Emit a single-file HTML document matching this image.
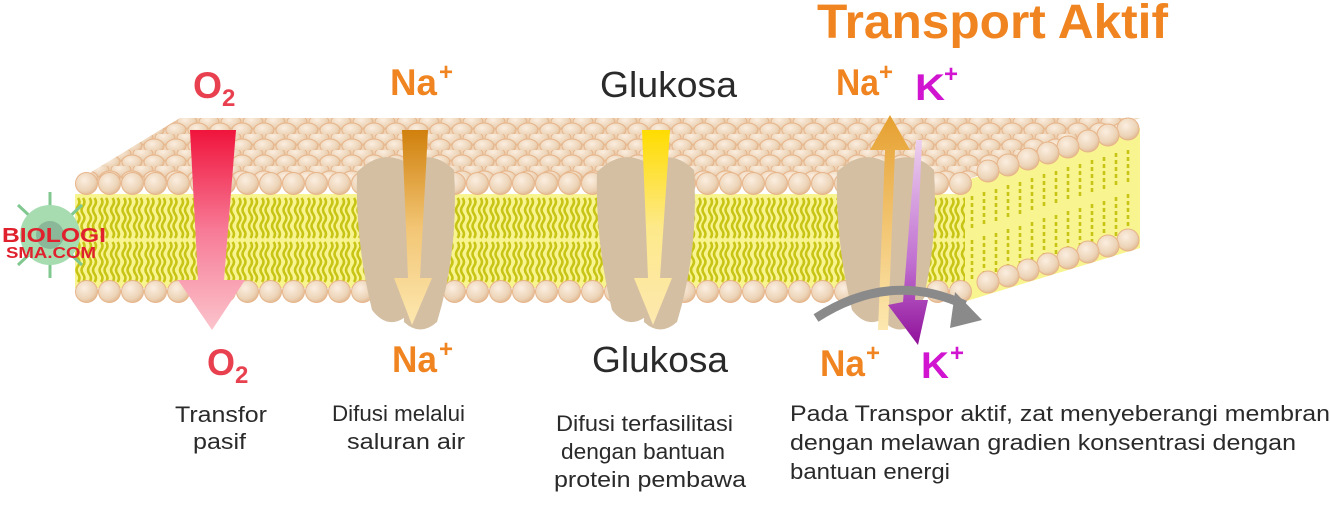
<!DOCTYPE html>
<html><head><meta charset="utf-8"><style>html,body{margin:0;padding:0;background:#fff}svg{display:block}</style></head>
<body>
<svg width="1330" height="518" viewBox="0 0 1330 518" xmlns="http://www.w3.org/2000/svg" font-family="Liberation Sans, Arial, sans-serif">
<defs>
  <radialGradient id="ball" cx="0.4" cy="0.35" r="0.7">
    <stop offset="0" stop-color="#fbeee0"/><stop offset="0.7" stop-color="#ecd3b6"/><stop offset="1" stop-color="#e0b58c"/>
  </radialGradient>
  <pattern id="heads" x="75" y="172" width="23" height="108" patternUnits="userSpaceOnUse">
    <circle cx="11.5" cy="11.5" r="11" fill="url(#ball)" stroke="#e7b489" stroke-width="1"/>
  </pattern>
  <pattern id="topballs" x="0" y="118" width="22" height="16" patternUnits="userSpaceOnUse">
    <ellipse cx="11" cy="4" rx="10" ry="7" fill="url(#ball)" stroke="#e7b489" stroke-width="1"/>
    <ellipse cx="0" cy="12" rx="10" ry="7" fill="url(#ball)" stroke="#e7b489" stroke-width="1"/>
    <ellipse cx="22" cy="12" rx="10" ry="7" fill="url(#ball)" stroke="#e7b489" stroke-width="1"/>
  </pattern>
  <pattern id="tails" x="75" y="196" width="11.5" height="44" patternUnits="userSpaceOnUse">
    <path d="M3 2 q3 4 0 8 q-3 4 0 8 q3 4 0 8 q-3 4 0 8 q3 4 0 8 M8 2 q3 4 0 8 q-3 4 0 8 q3 4 0 8 q-3 4 0 8 q3 4 0 8" fill="none" stroke="#c8c415" stroke-width="2.6"/>
  </pattern>
  <linearGradient id="gO2" x1="0" y1="0" x2="0" y2="1"><stop offset="0" stop-color="#f0143c"/><stop offset="0.5" stop-color="#f77a96"/><stop offset="1" stop-color="#fbc4cc"/></linearGradient>
  <linearGradient id="gNa" x1="0" y1="0" x2="0" y2="1"><stop offset="0" stop-color="#d0800c"/><stop offset="0.5" stop-color="#f2c574"/><stop offset="1" stop-color="#fde8b0"/></linearGradient>
  <linearGradient id="gGl" x1="0" y1="0" x2="0" y2="1"><stop offset="0" stop-color="#ffdc00"/><stop offset="0.5" stop-color="#fde98a"/><stop offset="1" stop-color="#fde8b0"/></linearGradient>
  <linearGradient id="gNa2" x1="0" y1="1" x2="0" y2="0"><stop offset="0" stop-color="#fde8b0"/><stop offset="1" stop-color="#e6a030"/></linearGradient>
  <linearGradient id="gK" x1="0" y1="0" x2="0" y2="1"><stop offset="0" stop-color="#ecd0ee"/><stop offset="0.6" stop-color="#c070d0"/><stop offset="1" stop-color="#90109a"/></linearGradient>
</defs>

<!-- top surface -->
<polygon points="75,182 180,118 1140,118 960,182" fill="#efd4b8"/>
<polygon points="75,182 180,118 1140,118 960,182" fill="url(#topballs)"/>
<!-- side face -->
<polygon points="960,182 1140,128 1140,248 960,303" fill="#f8f490"/>
<g fill="none" stroke="#c8c415" stroke-width="2.6">
  <path d="M972 196 v35 M984 192 v35 M996 189 v35 M1008 185 v35 M1020 182 v35 M1032 178 v35 M1044 174 v35 M1056 171 v35 M1068 167 v35 M1080 164 v35 M1092 160 v35 M1104 157 v35 M1116 153 v35 M1128 150 v35" stroke-dasharray="4 3"/>
  <path d="M972 240 v40 M984 236 v40 M996 233 v40 M1008 229 v40 M1020 226 v40 M1032 222 v40 M1044 218 v40 M1056 215 v40 M1068 211 v40 M1080 208 v40 M1092 204 v40 M1104 201 v40 M1116 197 v40 M1128 194 v40" stroke-dasharray="4 3"/>
</g>
<g fill="url(#ball)" stroke="#e7b489">
  <circle cx="1128" cy="129" r="11"/><circle cx="1108" cy="135" r="11"/><circle cx="1088" cy="141" r="11"/><circle cx="1068" cy="147" r="11"/><circle cx="1048" cy="153" r="11"/><circle cx="1028" cy="159" r="11"/><circle cx="1008" cy="165" r="11"/><circle cx="988" cy="171" r="11"/>
  <circle cx="1128" cy="240" r="11"/><circle cx="1108" cy="246" r="11"/><circle cx="1088" cy="252" r="11"/><circle cx="1068" cy="258" r="11"/><circle cx="1048" cy="264" r="11"/><circle cx="1028" cy="270" r="11"/><circle cx="1008" cy="276" r="11"/><circle cx="988" cy="282" r="11"/>
</g>
<!-- front face -->
<rect x="75" y="194" width="890" height="94" fill="#f8f490"/>
<rect x="75" y="196" width="890" height="88" fill="url(#tails)"/>
<rect x="75" y="172" width="897" height="23" fill="url(#heads)"/>
<rect x="75" y="280" width="897" height="23" fill="url(#heads)"/>

<!-- logo -->
<g>
  <g stroke="#80c890" stroke-width="3"><line x1="50" y1="192" x2="50" y2="278"/><line x1="18" y1="205" x2="82" y2="265"/><line x1="82" y1="205" x2="18" y2="265"/></g>
  <circle cx="50" cy="235" r="30" fill="#a6dcb0"/>
  <circle cx="50" cy="235" r="14" fill="#7aa088" opacity="0.6"/>
  <text x="2" y="242" font-size="20" font-weight="bold" fill="#e0202c" textLength="104" lengthAdjust="spacingAndGlyphs">BIOLOGI</text>
  <text x="6" y="258" font-size="16" font-weight="bold" fill="#e0202c" textLength="90" lengthAdjust="spacingAndGlyphs">SMA.COM</text>
</g>

<!-- proteins -->
<g fill="#d5bfa2">
  <path d="M357 172 q25 -25 52 -8 l0 150 q-20 18 -37 -4 q-17 -70 -15 -138z"/>
  <path d="M404 164 q28 -16 50 6 q5 80 -17 152 q-17 15 -33 0z"/>
  <path d="M597 172 q25 -25 52 -8 l0 150 q-20 18 -37 -4 q-17 -70 -15 -138z"/>
  <path d="M644 164 q28 -16 50 6 q5 80 -17 152 q-17 15 -33 0z"/>
  <path d="M837 172 q25 -25 52 -8 l0 150 q-20 18 -37 -4 q-17 -70 -15 -138z"/>
  <path d="M884 164 q28 -16 50 6 q5 80 -17 152 q-17 15 -33 0z"/>
</g>

<!-- arrows -->
<polygon points="190,130 236,130 224,280 245,280 212,330 178,280 198,280" fill="url(#gO2)"/>
<polygon points="402,130 428,130 420,278 432,278 412,325 394,278 408,278" fill="url(#gNa)"/>
<polygon points="642,130 670,130 660,278 672,278 653,325 634,278 648,278" fill="url(#gGl)"/>
<polygon points="878,330 885,150 870,150 890,115 910,150 895,150 888,330" fill="url(#gNa2)"/>
<polygon points="916,140 922,140 915,300 928,300 918,345 888,305 903,302" fill="url(#gK)"/>
<path d="M816 318 Q890 270 965 305" fill="none" stroke="#8a8a8a" stroke-width="9"/>
<polygon points="955,292 982,320 950,328" fill="#8a8a8a"/>

<!-- labels -->
<text x="817" y="38" font-size="48" font-weight="bold" fill="#f08420" textLength="351" lengthAdjust="spacingAndGlyphs">Transport Aktif</text>
<g font-weight="bold">
<text x="193" y="98" font-size="37" fill="#e8404f" textLength="29" lengthAdjust="spacingAndGlyphs">O</text>
<text x="222" y="106" font-size="24" fill="#e8404f">2</text>
<text x="390" y="95" font-size="37" fill="#f08420" textLength="47" lengthAdjust="spacingAndGlyphs">Na</text>
<text x="439" y="80" font-size="24" fill="#f08420">+</text>
<text x="836" y="95" font-size="37" fill="#f08420" textLength="43" lengthAdjust="spacingAndGlyphs">Na</text>
<text x="879" y="80" font-size="24" fill="#f08420">+</text>
<text x="915" y="100" font-size="37" fill="#d014d0" textLength="30" lengthAdjust="spacingAndGlyphs">K</text>
<text x="944" y="82" font-size="24" fill="#d014d0">+</text>
<text x="207" y="375" font-size="37" fill="#e8404f" textLength="28" lengthAdjust="spacingAndGlyphs">O</text>
<text x="235" y="383" font-size="24" fill="#e8404f">2</text>
<text x="392" y="372" font-size="37" fill="#f08420" textLength="45" lengthAdjust="spacingAndGlyphs">Na</text>
<text x="439" y="357" font-size="24" fill="#f08420">+</text>
<text x="820" y="376" font-size="37" fill="#f08420" textLength="45" lengthAdjust="spacingAndGlyphs">Na</text>
<text x="866" y="361" font-size="24" fill="#f08420">+</text>
<text x="921" y="378" font-size="37" fill="#d014d0" textLength="28" lengthAdjust="spacingAndGlyphs">K</text>
<text x="950" y="361" font-size="24" fill="#d014d0">+</text>
</g>
<text x="600" y="97" font-size="36" fill="#2a2a2a" textLength="137" lengthAdjust="spacingAndGlyphs">Glukosa</text>
<text x="592" y="372" font-size="36" fill="#2a2a2a" textLength="136" lengthAdjust="spacingAndGlyphs">Glukosa</text>

<g font-size="22" fill="#2a2a2a">
<text x="175" y="422" textLength="92" lengthAdjust="spacingAndGlyphs">Transfor</text>
<text x="193" y="449" textLength="53" lengthAdjust="spacingAndGlyphs">pasif</text>
<text x="332" y="421" textLength="133" lengthAdjust="spacingAndGlyphs">Difusi melalui</text>
<text x="347" y="449" textLength="118" lengthAdjust="spacingAndGlyphs">saluran air</text>
<text x="556" y="431" textLength="177" lengthAdjust="spacingAndGlyphs">Difusi terfasilitasi</text>
<text x="561" y="459" textLength="164" lengthAdjust="spacingAndGlyphs">dengan bantuan</text>
<text x="554" y="487" textLength="192" lengthAdjust="spacingAndGlyphs">protein pembawa</text>
<text x="790" y="421" textLength="540" lengthAdjust="spacingAndGlyphs">Pada Transpor aktif, zat menyeberangi membran</text>
<text x="790" y="450" textLength="506" lengthAdjust="spacingAndGlyphs">dengan melawan gradien konsentrasi dengan</text>
<text x="790" y="479" textLength="160" lengthAdjust="spacingAndGlyphs">bantuan energi</text>
</g>
</svg>
</body></html>
